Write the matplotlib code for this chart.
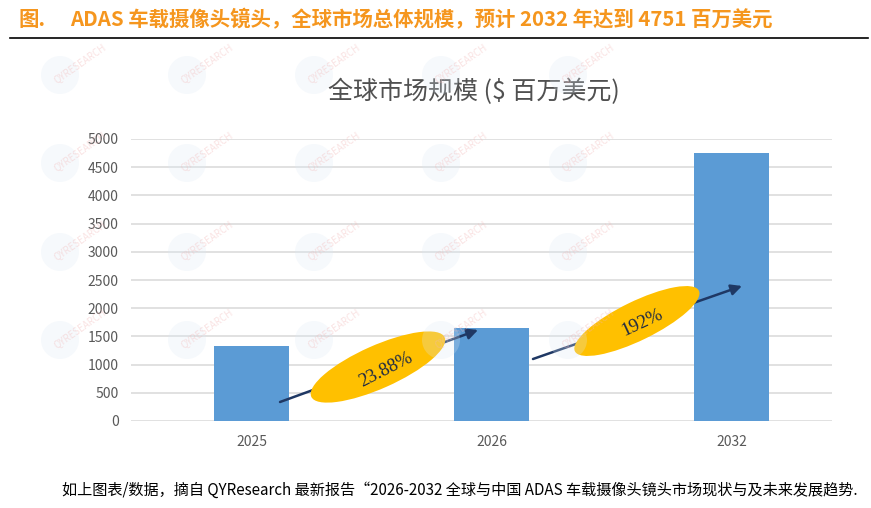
import matplotlib
matplotlib.use("Agg")
import matplotlib.pyplot as plt
from matplotlib.patches import Ellipse, Circle
from matplotlib import transforms

plt.rcParams['font.family'] = ['Noto Sans CJK SC', 'DejaVu Sans']

# data
years = ['2025', '2026', '2032']
market_size = [1336, 1655, 4751]
growth_labels = ['23.88%', '192%']
yticks = [0, 500, 1000, 1500, 2000, 2500, 3000, 3500, 4000, 4500, 5000]

BAR_BLUE = '#5B9BD5'
GOLD = '#FFC000'
NAVY = '#1F3864'
ORANGE = '#F5961E'
GRAY = '#595959'

fig = plt.figure(figsize=(8.71, 5.08), dpi=100)
ax = fig.add_axes([131 / 871, 1 - 421 / 508, 701 / 871, 282 / 508])

x = list(range(len(years)))
ax.bar(x, market_size, width=0.3125, color=BAR_BLUE, zorder=2)
ax.set_xlim(-0.504, 2.417)
ax.set_ylim(0, 5000)
ax.set_yticks(yticks)
ax.set_xticks(x)
ax.set_xticklabels(years)
ax.grid(axis='y', color='#D9D9D9', lw=1.1, zorder=0)
ax.set_axisbelow(True)
for s in ax.spines.values():
    s.set_visible(False)
ax.tick_params(axis='both', length=0, labelsize=10, colors=GRAY)
ax.tick_params(axis='y', pad=9)
ax.tick_params(axis='x', pad=10)

# growth arrows between the bars
arrows = [((0.117, 337), (0.942, 1614)), ((1.171, 1099), (2.042, 2394))]
for (x0, y0), (x1, y1) in arrows:
    ax.annotate('', xy=(x1, y1), xytext=(x0, y0),
                arrowprops=dict(arrowstyle='-|>', color=NAVY, lw=1.8, mutation_scale=16, shrinkA=0, shrinkB=0),
                zorder=3)

# yellow ellipses (size in inches, centre in data coords)
ellipses = [((0.525, 957), 1.46, 0.43, 24), ((1.604, 1773), 1.38, 0.39, 26)]
for (cx, cy), w, h, ang in ellipses:
    trans = fig.dpi_scale_trans + transforms.ScaledTranslation(cx, cy, ax.transData)
    e = Ellipse((0, 0), w, h, angle=ang, facecolor=GOLD, edgecolor='none', transform=trans, zorder=4)
    ax.add_patch(e)

text_pos = [((0.56, 900), 27), ((1.625, 1738), 25)]
for lab, ((tx, ty), rot) in zip(growth_labels, text_pos):
    ax.text(tx, ty, lab, rotation=rot, ha='center', va='center', fontsize=13.5,
            family='Liberation Serif', color='#1F2A44', zorder=5, rotation_mode='anchor')

# chart title
fig.text(474 / 871, 1 - 92 / 508, '全球市场规模 ($ 百万美元)', ha='center', va='center',
         fontsize=18, color='#505050')

# header
fig.text(18 / 871, 1 - 20 / 508, '图.', ha='left', va='center', fontsize=14.7,
         fontweight='bold', color=ORANGE)
fig.text(70 / 871, 1 - 20 / 508, 'ADAS 车载摄像头镜头，全球市场总体规模，预计 2032 年达到 4751 百万美元',
         ha='left', va='center', fontsize=14.7, fontweight='bold', color=ORANGE)
fig.add_artist(plt.Line2D([10 / 871, 868 / 871], [1 - 38 / 508, 1 - 38 / 508], color='black', lw=1.2))

# footer
fig.text(62 / 871, 1 - 490 / 508,
         '如上图表/数据，摘自 QYResearch 最新报告“2026-2032 全球与中国 ADAS 车载摄像头镜头市场现状与及未来发展趋势.',
         ha='left', va='center', fontsize=10.9, style='italic', color='black')

# faint watermarks
for wx in [60, 187, 314, 441, 568]:
    for wy in [75, 163, 252, 340]:
        trans = fig.dpi_scale_trans + transforms.ScaledTranslation(wx / 871, 1 - wy / 508, fig.transFigure)
        c = Circle((0, 0), 0.19, transform=trans, facecolor='#DCE9F5', edgecolor='none',
                   alpha=0.25, zorder=6)
        fig.add_artist(c)
        fig.text((wx + 20) / 871, 1 - (wy - 12) / 508, 'QYRESEARCH', rotation=35, ha='center', va='center',
                 fontsize=7, color='#F2B8B8', alpha=0.4, zorder=6)

fig.savefig('out.png', dpi=100)
